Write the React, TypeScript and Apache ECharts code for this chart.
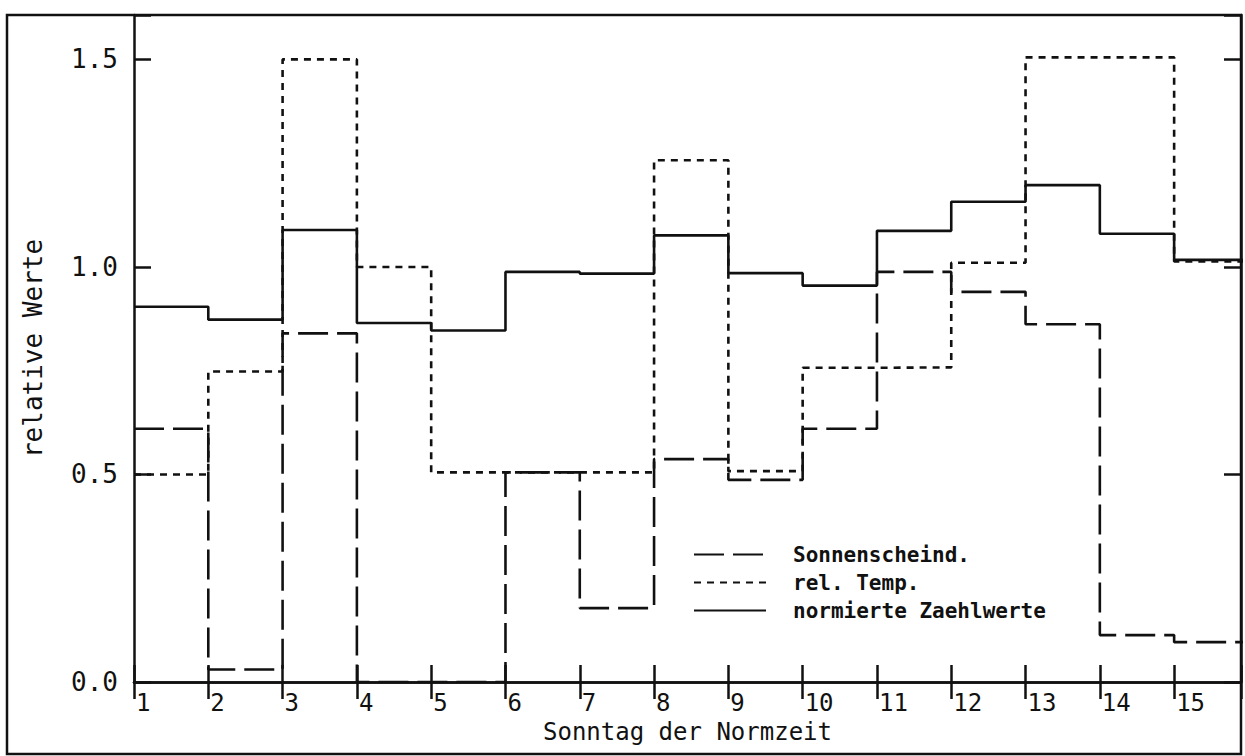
import React, { useEffect, useRef } from 'react';
import * as echarts from 'echarts';

const days = [1, 2, 3, 4, 5, 6, 7, 8, 9, 10, 11, 12, 13, 14, 15];
const sonnenschein = [0.61, 0.03, 0.84, 0, 0, 0.505, 0.178, 0.537, 0.487, 0.61, 0.988, 0.94, 0.862, 0.113, 0.096];
const relTemp = [0.5, 0.748, 1.5, 1.0, 0.505, 0.505, 0.505, 1.257, 0.508, 0.757, 0.758, 1.01, 1.505, 1.505, 1.013];
const zaehlwerte = [0.904, 0.873, 1.089, 0.865, 0.847, 0.988, 0.984, 1.076, 0.985, 0.955, 1.087, 1.157, 1.197, 1.08, 1.017];
const xEnd = 16;
const seriesNames = ['Sonnenscheind.', 'rel. Temp.', 'normierte Zaehlwerte'];
const xTitle = 'Sonntag der Normzeit';
const yTitle = 'relative Werte';

const FONT = 'DejaVu Sans Mono';
const INK = '#111';

function stepData(vals: number[]) {
  const pts = days.map((d, i) => [d, vals[i]]);
  pts.push([xEnd, vals[vals.length - 1]]);
  return pts;
}

export default function App() {
  const ref = useRef<HTMLDivElement>(null);
  useEffect(() => {
    if (!ref.current) return;
    const chart = echarts.init(ref.current, undefined, { renderer: 'svg' });
    const axisLine = { show: true, lineStyle: { color: INK, width: 2.5 } };
    const axisTick = { show: true, inside: true, length: 17, lineStyle: { color: INK, width: 2.5 } };
    const mkLine = (name: string, vals: number[], type: any, z: number) => ({
      name,
      type: 'line',
      step: 'end',
      symbol: 'none',
      data: stepData(vals),
      z,
      lineStyle: { color: INK, width: 2.6, type, cap: 'butt' },
      itemStyle: { color: INK },
    });
    chart.setOption({
      animation: false,
      backgroundColor: '#fff',
      grid: { left: 134, top: 15, right: 4, bottom: 74, containLabel: false },
      graphic: [
        {
          type: 'rect',
          shape: { x: 7, y: 15, width: 1234, height: 739 },
          style: { fill: 'none', stroke: INK, lineWidth: 2.5 },
          z: -1,
        },
      ],
      legend: {
        orient: 'vertical',
        left: 693,
        top: 544,
        itemWidth: 72,
        itemHeight: 14,
        itemGap: 7,
        padding: 0,
        data: seriesNames,
        itemStyle: { opacity: 0 },
        textStyle: { fontFamily: FONT, fontSize: 21, fontWeight: 'bold', color: INK, padding: [0, 0, 0, 22] },
      },
      xAxis: [
        {
          type: 'value',
          position: 'bottom',
          min: 1,
          max: 15.9,
          interval: 1,
          axisLine,
          axisTick,
          splitLine: { show: false },
          axisLabel: {
            align: 'left',
            margin: 9,
            fontFamily: FONT,
            fontSize: 24,
            color: INK,
            padding: [0, 0, 0, 2],
            formatter: (v: number) => (Number.isInteger(v) ? String(v) : ''),
          },
          name: xTitle,
          nameLocation: 'middle',
          nameGap: 36,
          nameTextStyle: { fontFamily: FONT, fontSize: 24, color: INK },
        },
        {
          type: 'value',
          position: 'top',
          min: 1,
          max: 15.9,
          interval: 1,
          axisLine,
          axisTick,
          splitLine: { show: false },
          axisLabel: { show: false },
        },
      ],
      yAxis: [
        {
          type: 'value',
          position: 'left',
          min: 0,
          max: 1.607,
          interval: 0.5,
          axisLine,
          axisTick,
          splitLine: { show: false },
          axisLabel: {
            margin: 16,
            fontFamily: FONT,
            fontSize: 26,
            color: INK,
            padding: [0, 0, 14, 0],
            formatter: (v: number) => (v <= 1.5 + 1e-9 ? v.toFixed(1) : ''),
          },
          name: yTitle,
          nameLocation: 'middle',
          nameGap: 88,
          nameTextStyle: { fontFamily: FONT, fontSize: 26, color: INK },
        },
        {
          type: 'value',
          position: 'right',
          min: 0,
          max: 1.607,
          interval: 0.5,
          axisLine,
          axisTick,
          splitLine: { show: false },
          axisLabel: { show: false },
        },
      ],
      series: [
        mkLine(seriesNames[0], sonnenschein, [30, 9], 3),
        mkLine(seriesNames[1], relTemp, [7, 6], 2),
        mkLine(seriesNames[2], zaehlwerte, 'solid', 4),
      ],
    });
    return () => chart.dispose();
  }, []);
  return <div ref={ref} style={{ position: 'absolute', left: 0, top: 0, width: 1245, height: 756 }} />;
}
